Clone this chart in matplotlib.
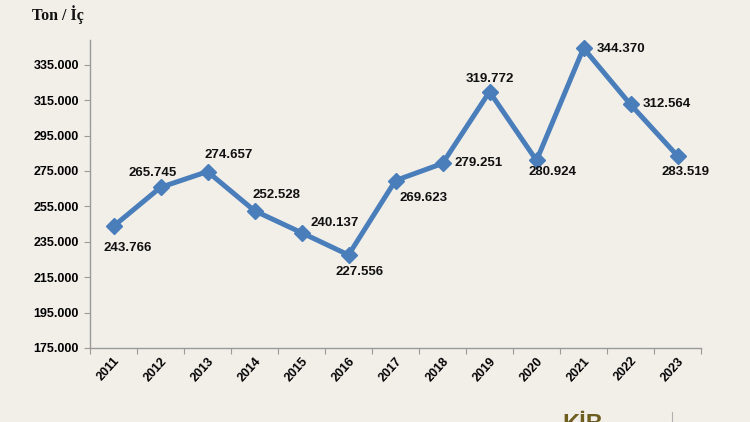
import matplotlib

matplotlib.use("Agg", force=True)
import matplotlib.pyplot as plt
import numpy as np

YEARS = ["2011", "2012", "2013", "2014", "2015", "2016", "2017",
         "2018", "2019", "2020", "2021", "2022", "2023"]
VALUES = [243766, 265745, 274657, 252528, 240137, 227556, 269623,
          279251, 319772, 280924, 344370, 312564, 283519]
LABELS = ["243.766", "265.745", "274.657", "252.528", "240.137", "227.556", "269.623",
          "279.251", "319.772", "280.924", "344.370", "312.564", "283.519"]
# label offsets in pixels (dx, dy screen-up)
OFFSETS = [(14, -22), (-8, 14), (21, 17), (22, 16), (33, 10), (11, -17), (28, -17),
           (36, 0), (0, 13), (16, -12), (37, -1), (36, 0), (8, -16)]
YTICKS = np.arange(175000, 335001, 20000)

BG = "#f2efe9"
BLUE = "#4a7ebb"
GRAY = "#9a9a9a"

fig = plt.figure(figsize=(7.5, 4.22), dpi=100, facecolor=BG)
ax = fig.add_axes([0.12, 0.1754, 0.8147, 0.7298], facecolor=BG)

x = np.arange(len(YEARS))
ax.plot(x, VALUES, color=BLUE, linewidth=3.6, marker="D", markersize=8,
        markerfacecolor=BLUE, markeredgecolor=BLUE, zorder=3)

for xi, v, lab, (dx, dy) in zip(x, VALUES, LABELS, OFFSETS):
    ax.annotate(lab, (xi, v), xytext=(dx * 0.72, dy * 0.72), textcoords="offset points",
                ha="center", va="center", fontsize=9.5, fontweight="bold",
                family="Liberation Sans", color="#111111")

ax.set_xlim(-0.5, len(YEARS) - 0.5)
ax.set_ylim(175000, 349000)
ax.set_yticks(YTICKS, [f"{t // 1000}.000" for t in YTICKS])
ax.set_xticks(np.arange(len(YEARS) + 1) - 0.5, minor=False)
ax.set_xticklabels([])
ax.set_xticks(x, YEARS, minor=True)
ax.tick_params(axis="x", which="minor", length=0, pad=5)
ax.tick_params(axis="x", which="major", length=4, color=GRAY)
ax.tick_params(axis="y", length=4, color=GRAY, pad=4)
for lab in ax.get_xticklabels(minor=True):
    lab.set_rotation(48)
    lab.set_ha("right")
    lab.set_va("top")
    lab.set_rotation_mode("anchor")
    lab.set_fontsize(9)
    lab.set_fontweight("bold")
    lab.set_family("Liberation Sans")
for lab in ax.get_yticklabels():
    lab.set_fontsize(9)
    lab.set_fontweight("bold")
    lab.set_family("Liberation Sans")

for side in ["top", "right"]:
    ax.spines[side].set_visible(False)
for side in ["left", "bottom"]:
    ax.spines[side].set_color(GRAY)
    ax.spines[side].set_linewidth(1.0)

fig.text(32 / 750, 1 - 15 / 422, "Ton / İç", fontsize=11.5, fontweight="bold",
         family="Liberation Serif", ha="left", va="center", color="#111111")
# logo strip at the bottom edge, cut off like in the source image
fig.text(562 / 750, 1 - 413 / 422, "KİB", fontsize=17, fontweight="bold",
         family="Liberation Sans", color="#6e5e22", ha="left", va="top")
fig.add_artist(plt.Line2D([672 / 750, 672 / 750], [0, 10 / 422], color="#b0b0b0", linewidth=0.8))

fig.savefig("out.png", dpi=100, facecolor=BG)
